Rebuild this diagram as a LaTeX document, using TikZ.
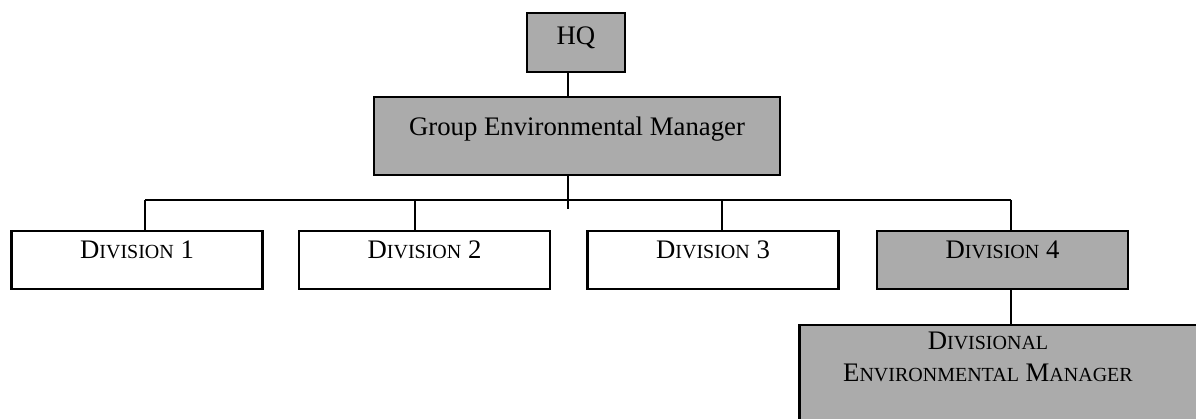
\documentclass[tikz,border=0pt]{standalone}
\usepackage{fontspec}
\setmainfont{Liberation Serif}
\newcommand\smc[1]{{\fontsize{8}{9.6}\selectfont #1}}

\begin{document}
\begin{tikzpicture}[x=0.4pt, y=-0.4pt,
        box/.style={draw, line width=1pt, fill=white, inner sep=0pt, font=\fontsize{10.7}{12.8}\selectfont},
        shadedbox/.style={fill=black!33},
        divbox/.style={minimum width=100.4pt, minimum height=23.2pt, text height=7.2pt, text depth=8pt},
        link/.style={line width=0.8pt}]
        \useasboundingbox (0,0) rectangle (1196,419);
        \clip (0,0) rectangle (1196,419);

        % Head office and group manager
        \node[box, shadedbox, minimum width=39.2pt, minimum height=23.6pt, text height=7.2pt, text depth=5.2pt] (hq) at (576,42.5) {HQ};
        \node[box, shadedbox, minimum width=162.4pt, minimum height=31.2pt, text height=7.2pt, text depth=7.6pt] (gem) at (577,136) {Group Environmental Manager};

        % Divisions
        \node[box, divbox] (div1) at (137,260) {D\smc{IVISION} 1};
        \node[box, divbox] (div2) at (424.5,260) {D\smc{IVISION} 2};
        \node[box, divbox] (div3) at (713,260) {D\smc{IVISION} 3};
        \node[box, divbox, shadedbox] (div4) at (1002.5,260) {D\smc{IVISION} 4};

        % Divisional manager (runs off the page)
        \node[box, shadedbox, anchor=north west, minimum width=200pt, minimum height=60pt] (dem) at (798,324) {};
        \node[align=center, font=\fontsize{10.7}{12.8}\selectfont] (demlabel) at (988,357) {D\smc{IVISIONAL}\\E\smc{NVIRONMENTAL} M\smc{ANAGER}};

        % Bus
        \coordinate (b0) at (568,200);
        \coordinate (b1) at (145,200);
        \coordinate (b2) at (415,200);
        \coordinate (b3) at (722,200);
        \coordinate (b4) at (1011,200);

        \draw[link] (hq.south -| b0) -- (gem.north -| b0);
        \draw[link] (gem.south -| b0) -- ([yshift=-3.6pt]b0);
        \draw[line width=0.6pt] (b1) -- (b4);
        \foreach \i in {1,...,4}
            \draw[link] (b\i) -- (b\i |- div\i.north);
        \draw[link] (b4 |- div4.south) -- (b4 |- dem.north);
\end{tikzpicture}
\end{document}
